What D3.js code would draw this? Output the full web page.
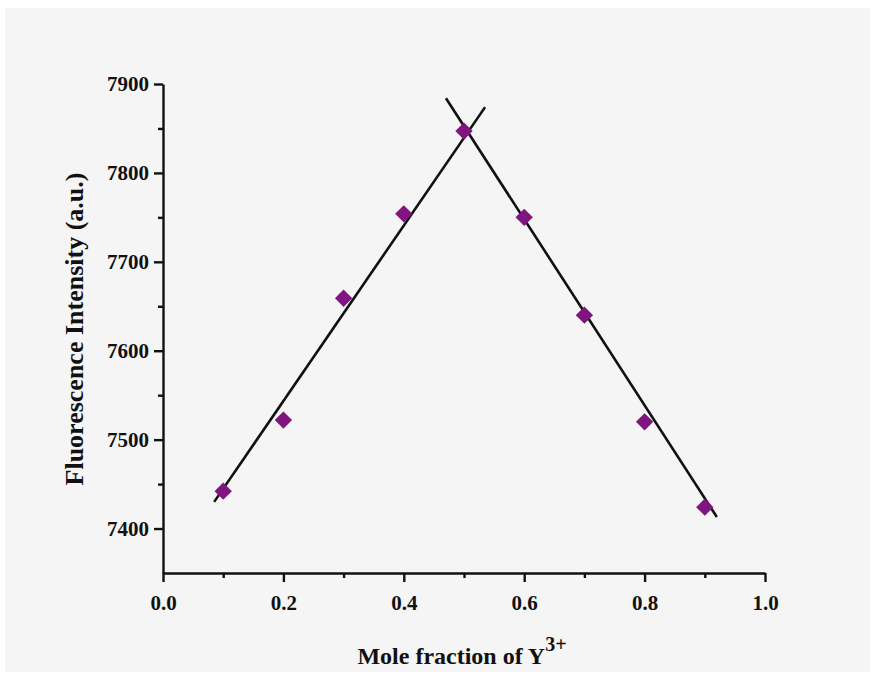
<!DOCTYPE html>
<html>
<head>
<meta charset="utf-8">
<script src="https://cdn.jsdelivr.net/npm/d3@7"></script>
<style>
  html, body { margin: 0; padding: 0; background: #ffffff; }
  svg { display: block; }
  text { font-family: "Liberation Serif", "Times New Roman", serif; font-weight: bold; fill: #111; }
</style>
</head>
<body>
<svg id="chart" width="875" height="678"></svg>
<script>
// Job's plot: fluorescence intensity vs. mole fraction of Y3+
const moleFraction = [0.1, 0.2, 0.3, 0.4, 0.5, 0.6, 0.7, 0.8, 0.9];
const intensity = [7442, 7522, 7659, 7754, 7847, 7750, 7640, 7520, 7424];

// Linear fit segments (rising and falling branches)
const fitRiseX = [0.085, 0.535];
const fitRiseY = [7430, 7874];
const fitFallX = [0.470, 0.920];
const fitFallY = [7884, 7413];

const xTicks = [0.0, 0.2, 0.4, 0.6, 0.8, 1.0];
const xMinorTicks = [0.1, 0.3, 0.5, 0.7, 0.9];
const yTicks = [7400, 7500, 7600, 7700, 7800, 7900];
const yMinorTicks = [7450, 7550, 7650, 7750, 7850];

const svg = d3.select("#chart");

// light paper backdrop
svg.append("rect")
  .attr("x", 5).attr("y", 8).attr("width", 865).attr("height", 664)
  .attr("fill", "#f5f5f5");

const x = d3.scaleLinear().domain([0, 1]).range([163, 765]);
const y = d3.scaleLinear().domain([7350, 7900]).range([573, 84]);

// x axis
const xAxis = svg.append("g").attr("transform", `translate(0,${y(7350)})`);
xAxis.call(d3.axisBottom(x).tickValues(xTicks).tickFormat(d3.format(".1f")).tickSizeInner(9).tickSizeOuter(0).tickPadding(13));
xAxis.append("g").call(d3.axisBottom(x).tickValues(xMinorTicks).tickFormat("").tickSizeInner(5).tickSizeOuter(0))
  .select(".domain").remove();

// y axis
const yAxis = svg.append("g").attr("transform", `translate(${x(0)},0)`);
yAxis.call(d3.axisLeft(y).tickValues(yTicks).tickFormat(d3.format("d")).tickSizeInner(9).tickSizeOuter(0).tickPadding(5));
yAxis.append("g").call(d3.axisLeft(y).tickValues(yMinorTicks).tickFormat("").tickSizeInner(5).tickSizeOuter(0))
  .select(".domain").remove();

svg.selectAll(".domain").attr("stroke", "#111").attr("stroke-width", 2.4);
svg.selectAll(".tick line").attr("stroke", "#111").attr("stroke-width", 2.4);
svg.selectAll(".tick text")
  .attr("font-family", "'Liberation Serif', 'Times New Roman', serif")
  .attr("font-weight", "bold")
  .attr("font-size", 21)
  .attr("fill", "#111");

// fit lines
const line = d3.line().x(d => x(d[0])).y(d => y(d[1]));
[[fitRiseX, fitRiseY], [fitFallX, fitFallY]].forEach(([fx, fy]) => {
  svg.append("path")
    .datum(fx.map((v, i) => [v, fy[i]]))
    .attr("d", line)
    .attr("fill", "none")
    .attr("stroke", "#111")
    .attr("stroke-width", 2.6);
});

// data markers (rotated squares)
const diamond = d3.symbol().type(d3.symbolSquare).size(150);
svg.append("g").selectAll("path")
  .data(moleFraction.map((v, i) => [v, intensity[i]]))
  .join("path")
  .attr("d", diamond)
  .attr("transform", d => `translate(${x(d[0])},${y(d[1])}) rotate(45)`)
  .attr("fill", "#80157f");

// axis titles
svg.append("text")
  .attr("transform", `translate(83,${329}) rotate(-90)`)
  .attr("text-anchor", "middle")
  .attr("font-size", 26)
  .text("Fluorescence Intensity (a.u.)");

const xt = svg.append("text")
  .attr("x", 462).attr("y", 664)
  .attr("text-anchor", "middle")
  .attr("font-size", 24);
xt.append("tspan").text("Mole fraction of Y");
xt.append("tspan").attr("dy", -13).attr("font-size", 20).text("3+");
</script>
</body>
</html>
